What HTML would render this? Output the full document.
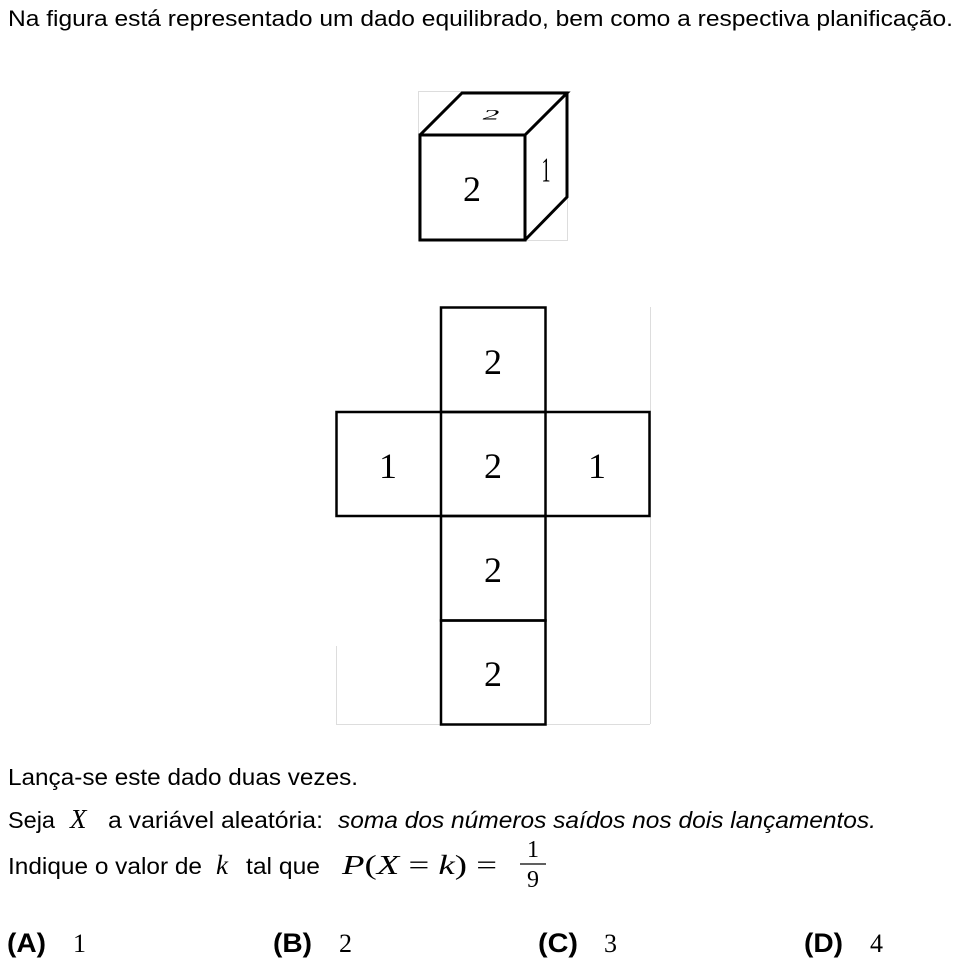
<!DOCTYPE html>
<html><head><meta charset="utf-8"><style>
html,body{margin:0;padding:0;background:#fff;}
svg{display:block}
</style></head><body>
<svg width="980" height="967" viewBox="0 0 980 967" xmlns="http://www.w3.org/2000/svg" font-family="Liberation Sans, sans-serif">
<text x="8" y="26" font-size="22" textLength="945" lengthAdjust="spacingAndGlyphs">Na figura está representado um dado equilibrado, bem como a respectiva planificação.</text>

<!-- cube -->
<rect x="418.5" y="91.5" width="149" height="149" fill="none" stroke="#ddd" stroke-width="1"/>
<g fill="none" stroke="#000" stroke-width="3" stroke-linejoin="miter">
<rect x="420" y="135" width="105" height="105"/>
<polyline points="420,135 462,93 567,93 525,135"/>
<polyline points="567,93 567,197 525,240"/>
</g>
<g font-family="Liberation Serif, serif">
<text x="472" y="201" font-size="36" text-anchor="middle">2</text>
<text x="491" y="121" font-size="24" text-anchor="middle" font-style="italic" transform="translate(491,117) scale(1.4,0.6) translate(-491,-117)">2</text>
<text x="546" y="180" font-size="30" text-anchor="middle" transform="translate(546,170) scale(0.6,1.15) translate(-546,-170)">1</text>
</g>

<!-- net -->
<g fill="none" stroke="#ddd" stroke-width="1">
<line x1="650.5" y1="307" x2="650.5" y2="724"/>
<line x1="336" y1="724.5" x2="650" y2="724.5"/>
<line x1="336.5" y1="646" x2="336.5" y2="724"/>
</g>
<g fill="none" stroke="#000" stroke-width="2.5">
<rect x="441" y="307.5" width="104.5" height="104.5"/>
<rect x="336.5" y="412" width="313" height="104"/>
<line x1="441" y1="412" x2="441" y2="516"/>
<line x1="545.5" y1="412" x2="545.5" y2="516"/>
<rect x="441" y="516" width="104.5" height="104.5"/>
<rect x="441" y="620.5" width="104.5" height="104"/>
</g>
<g font-family="Liberation Serif, serif" font-size="36" text-anchor="middle">
<text x="493" y="374">2</text>
<text x="388" y="478">1</text>
<text x="493" y="478">2</text>
<text x="597" y="478">1</text>
<text x="493" y="582">2</text>
<text x="493" y="686">2</text>
</g>

<!-- question -->
<g font-size="23">
<text x="8" y="785" textLength="350" lengthAdjust="spacingAndGlyphs">Lança-se este dado duas vezes.</text>
<text x="8" y="828" textLength="47" lengthAdjust="spacingAndGlyphs">Seja</text>
<text x="108" y="828" textLength="215" lengthAdjust="spacingAndGlyphs">a variável aleatória:</text>
<text x="338" y="828" font-style="italic" textLength="538" lengthAdjust="spacingAndGlyphs">soma dos números saídos nos dois lançamentos.</text>
<text x="8" y="874" textLength="194" lengthAdjust="spacingAndGlyphs">Indique o valor de</text>
<text x="246" y="874" textLength="74" lengthAdjust="spacingAndGlyphs">tal que</text>
</g>
<g font-family="Liberation Serif, serif">
<text x="70" y="828" font-size="27" font-style="italic">X</text>
<text x="216" y="874" font-size="27" font-style="italic">k</text>
<text x="342" y="874" font-size="27" textLength="155" lengthAdjust="spacingAndGlyphs"><tspan font-style="italic">P</tspan>(<tspan font-style="italic">X</tspan> = <tspan font-style="italic">k</tspan>) =</text>
<text x="533" y="857" font-size="24" text-anchor="middle">1</text>
<text x="533" y="887" font-size="24" text-anchor="middle">9</text>
</g>
<line x1="520" y1="864" x2="546" y2="864" stroke="#000" stroke-width="1.3"/>

<!-- answers -->
<g font-weight="bold" font-size="27">
<text x="7" y="952" textLength="39" lengthAdjust="spacingAndGlyphs">(A)</text>
<text x="273" y="952" textLength="39" lengthAdjust="spacingAndGlyphs">(B)</text>
<text x="538" y="952" textLength="40" lengthAdjust="spacingAndGlyphs">(C)</text>
<text x="804" y="952" textLength="39" lengthAdjust="spacingAndGlyphs">(D)</text>
</g>
<g font-family="Liberation Serif, serif" font-size="26">
<text x="73" y="952">1</text>
<text x="339" y="952">2</text>
<text x="604" y="952">3</text>
<text x="870" y="952">4</text>
</g>
</svg>
</body></html>
